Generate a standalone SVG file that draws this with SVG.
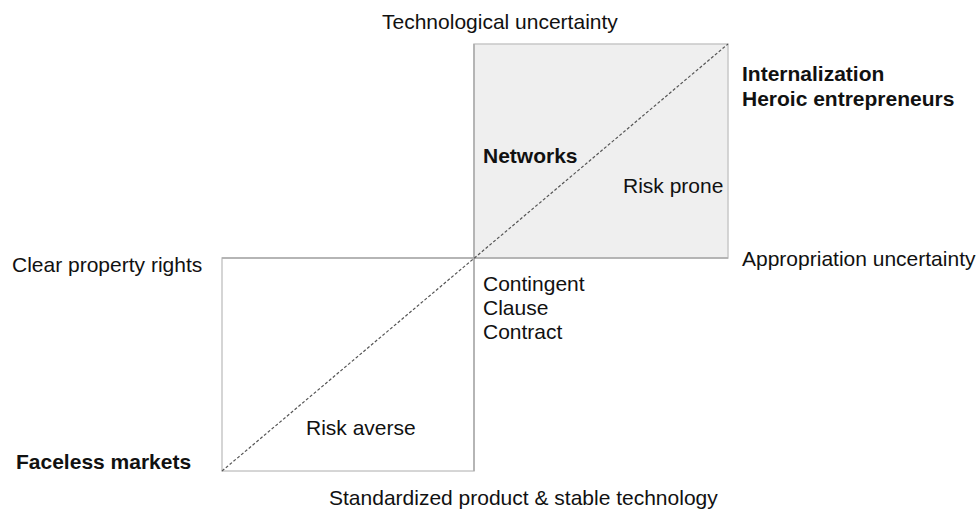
<svg xmlns="http://www.w3.org/2000/svg" width="976" height="511" viewBox="0 0 976 511">
  <style>
    text { font-family: "Liberation Sans", Arial, sans-serif; font-size: 21px; fill: #111; }
    .b { font-weight: bold; }
    .frame { fill: none; stroke: #c8c8c8; stroke-width: 1.5; }
    .axis { stroke: #aaa; stroke-width: 1.5; fill: none; }
    .diag { stroke: #555; stroke-width: 1.2; stroke-dasharray: 3 2; fill: none; }
  </style>
  <rect width="976" height="511" fill="#fff"/>

  <!-- quadrant boxes -->
  <g id="quadrant-upper-right">
    <rect x="474" y="44" width="254" height="214" fill="#efefef" stroke="#c8c8c8" stroke-width="1.5"/>
  </g>
  <g id="quadrant-lower-left">
    <rect x="222" y="258" width="252" height="213" class="frame"/>
  </g>

  <!-- axes and diagonal -->
  <g id="connectors">
    <line x1="222" y1="258" x2="728" y2="258" class="axis"/>
    <line x1="474" y1="44" x2="474" y2="471" class="axis"/>
    <line x1="222" y1="471" x2="728" y2="44" class="diag"/>
  </g>

  <!-- axis labels -->
  <g id="label-top"><text x="382" y="29">Technological uncertainty</text></g>
  <g id="label-bottom"><text x="329" y="505">Standardized product &amp; stable technology</text></g>
  <g id="label-left"><text x="12" y="272">Clear property rights</text></g>
  <g id="label-right"><text x="742" y="266">Appropriation uncertainty</text></g>

  <!-- quadrant labels -->
  <g id="internalization">
    <text x="742" y="81" class="b">Internalization</text>
    <text x="742" y="106" class="b">Heroic entrepreneurs</text>
  </g>
  <g id="networks"><text x="483" y="163" class="b">Networks</text></g>
  <g id="risk-prone"><text x="623" y="193">Risk prone</text></g>
  <g id="contract">
    <text x="483" y="291">Contingent</text>
    <text x="483" y="315">Clause</text>
    <text x="483" y="339">Contract</text>
  </g>
  <g id="risk-averse"><text x="306" y="435">Risk averse</text></g>
  <g id="faceless-markets"><text x="16" y="469" class="b">Faceless markets</text></g>
</svg>
